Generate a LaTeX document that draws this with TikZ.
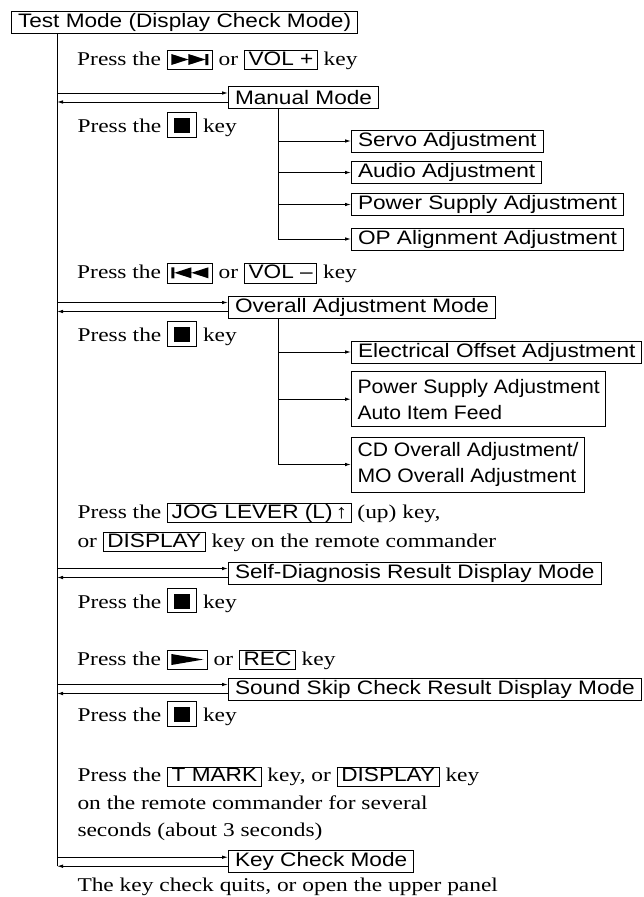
\documentclass[tikz,border=0pt]{standalone}
\usepackage{fontspec}
\setmainfont{Liberation Serif}[FakeStretch=1.2]
\setsansfont{Liberation Sans}[FakeStretch=1.16]
\newfontfamily\narrowsans{Liberation Sans}[FakeStretch=1.085]
\usetikzlibrary{arrows.meta}
\newcommand{\fsz}{\fontsize{19.5}{24}\selectfont}
\newcommand{\kbox}[1]{{\setlength{\fboxsep}{0pt}\setlength{\fboxrule}{1pt}\fbox{\hspace{3.5pt}\rule[-4.3pt]{0pt}{18.3pt}\sffamily #1\hspace{3.5pt}}}}
\newcommand{\stopkey}{{\setlength{\fboxsep}{0pt}\setlength{\fboxrule}{1pt}\fbox{\hspace{6pt}\rule[-0.6pt]{16pt}{15pt}\rule[-4pt]{0pt}{23.4pt}\hspace{6pt}}}}
\newcommand{\ffsym}{\tikz[baseline=0pt,x=1pt,y=1pt]{\fill[black] (1,0)--(18,5.5)--(1,11)--cycle (18,0)--(35,5.5)--(18,11)--cycle (35,0) rectangle (38,11);}}
\newcommand{\rwsym}{\tikz[baseline=0pt,x=1pt,y=1pt]{\fill[black] (1,0) rectangle (4,11) (21,0)--(4,5.5)--(21,11)--cycle (38,0)--(21,5.5)--(38,11)--cycle;}}
\newcommand{\playsym}{\tikz[baseline=0pt,x=1pt,y=1pt]{\fill[black] (1,0)--(33,5.5)--(1,11)--cycle;}}
\begin{document}
\begin{tikzpicture}[x=1pt,y=-1pt,line width=1pt,
  every node/.style={font=\fsz},
  modebox/.style={draw, font=\sffamily\fsz, anchor=west, minimum height=22pt, inner xsep=6.5pt, inner ysep=0pt},
  twobox/.style={draw, font=\narrowsans\fontsize{19.5}{26}\selectfont, anchor=west, align=left, inner xsep=6pt, inner ysep=0pt},
  txt/.style={anchor=base west, inner sep=0pt},
  arr/.style={-{Latex[length=6pt,width=3.6pt]}}]
\useasboundingbox (0,0) rectangle (643,897);

\node[modebox] (test) at (11,22) {Test Mode (Display Check Mode)};
\coordinate (t0) at (57,33);
\coordinate (t1) at (57,866);
\draw (t0) -- (t1);

% Manual mode
\node[txt] (p1) at (77,65) {Press the \kbox{\ffsym} or \kbox{VOL +} key};
\node[modebox] (manual) at (228,97.5) {Manual Mode};
\draw[arr] ([yshift=4.5pt]manual.west -| t0) -- ([yshift=4.5pt]manual.west);
\draw[arr] ([yshift=-4.5pt]manual.west) -- ([yshift=-4.5pt]manual.west -| t0);
\node[txt] (p2) at (77,132.7) {Press the \stopkey{} key};
\node[modebox] (servo) at (351,141) {Servo Adjustment};
\node[modebox] (audio) at (351,172.5) {Audio Adjustment};
\node[modebox] (psu) at (351,204.5) {Power Supply Adjustment};
\node[modebox] (opa) at (351,239) {OP Alignment Adjustment};
\coordinate (m0) at (manual.south -| 278,0);
\draw (m0) -- (opa.west -| m0);
\foreach \n in {servo,audio,psu,opa} \draw[arr] (\n.west -| m0) -- (\n.west);

% Overall adjustment mode
\node[txt] (p3) at (77,278.3) {Press the \kbox{\rwsym} or \kbox{VOL –} key};
\node[modebox] (overall) at (228,307) {Overall Adjustment Mode};
\draw[arr] ([yshift=4.5pt]overall.west -| t0) -- ([yshift=4.5pt]overall.west);
\draw[arr] ([yshift=-4.5pt]overall.west) -- ([yshift=-4.5pt]overall.west -| t0);
\node[txt] (p4) at (77,341.7) {Press the \stopkey{} key};
\node[modebox] (elec) at (351,352) {Electrical Offset Adjustment};
\node[twobox, minimum height=55pt] (psauto) at (351,399.2) {Power Supply Adjustment\\Auto Item Feed};
\node[twobox, minimum height=55pt] (cd) at (351,464.5) {CD Overall Adjustment/\\MO Overall Adjustment};
\coordinate (o0) at (overall.south -| 278,0);
\draw (o0) -- (cd.west -| o0);
\foreach \n in {elec,psauto,cd} \draw[arr] (\n.west -| o0) -- (\n.west);

% Self-diagnosis
\node[txt] (p5) at (77,518) {Press the \kbox{JOG LEVER (L)\,↑} (up) key,};
\node[txt] (p6) at (77,547) {or \kbox{DISPLAY} key on the remote commander};
\node[modebox] (selfd) at (228,573) {Self-Diagnosis Result Display Mode};
\draw[arr] ([yshift=4.5pt]selfd.west -| t0) -- ([yshift=4.5pt]selfd.west);
\draw[arr] ([yshift=-4.5pt]selfd.west) -- ([yshift=-4.5pt]selfd.west -| t0);
\node[txt] (p7) at (77,608) {Press the \stopkey{} key};

% Sound skip
\node[txt] (p8) at (77,665) {Press the \kbox{\playsym} or \kbox{REC} key};
\node[modebox] (skip) at (228,689) {Sound Skip Check Result Display Mode};
\draw[arr] ([yshift=4.5pt]skip.west -| t0) -- ([yshift=4.5pt]skip.west);
\draw[arr] ([yshift=-4.5pt]skip.west) -- ([yshift=-4.5pt]skip.west -| t0);
\node[txt] (p9) at (77,721.7) {Press the \stopkey{} key};

% Key check
\node[txt] (p10) at (77,781.7) {Press the \kbox{T MARK} key, or \kbox{DISPLAY} key};
\node[txt] (p11) at (77,809.3) {on the remote commander for several};
\node[txt] (p12) at (77,836.7) {seconds (about 3 seconds)};
\node[modebox] (keyc) at (228,861.7) {Key Check Mode};
\draw[arr] ([yshift=4.5pt]keyc.west -| t0) -- ([yshift=4.5pt]keyc.west);
\draw[arr] ([yshift=-4.5pt]keyc.west) -- ([yshift=-4.5pt]keyc.west -| t0);
\node[txt] (p13) at (77,891.7) {The key check quits, or open the upper panel};
\end{tikzpicture}
\end{document}
